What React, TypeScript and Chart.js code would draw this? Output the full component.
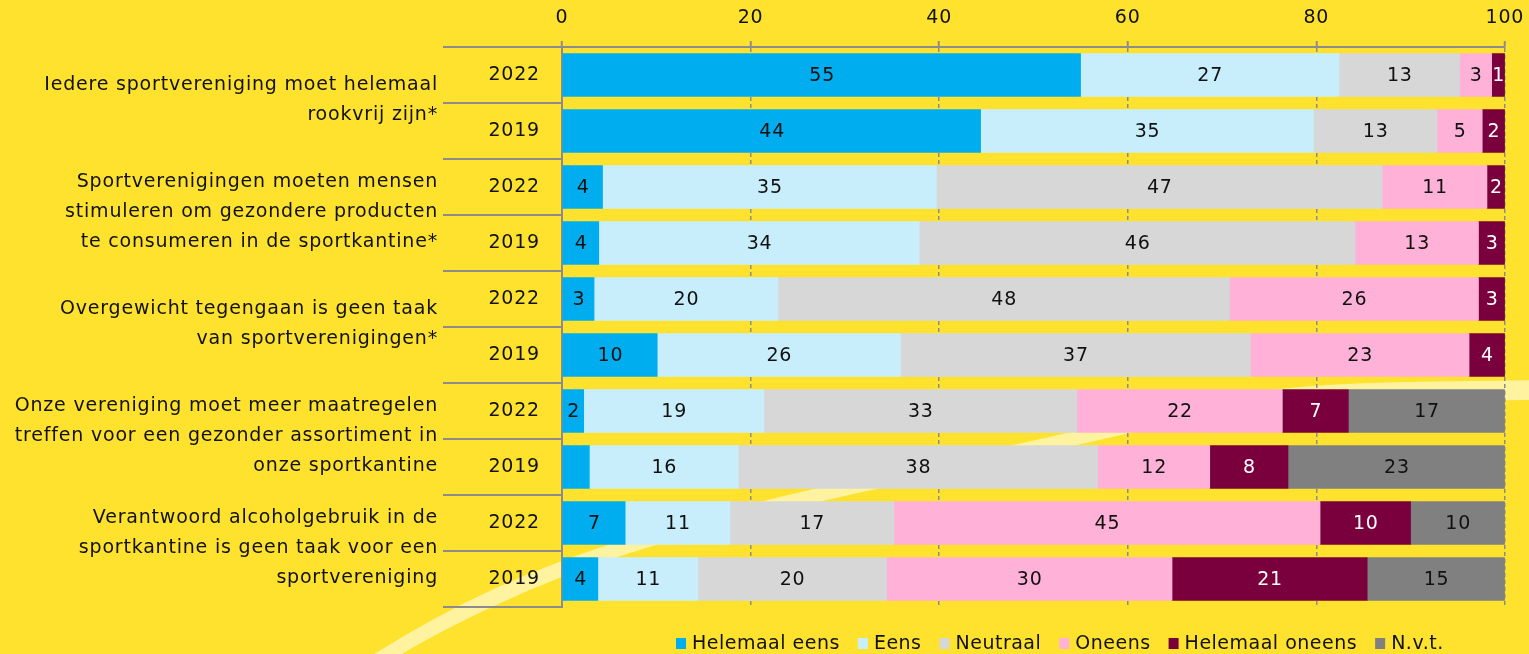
import React, { useEffect, useRef } from 'react';
import { Chart, registerables } from 'chart.js';

Chart.register(...registerables);

// ---------- data ----------
const years = ['2022', '2019', '2022', '2019', '2022', '2019', '2022', '2019', '2022', '2019'];

const questions = [
  ['Iedere sportvereniging moet helemaal', 'rookvrij zijn*'],
  ['Sportverenigingen moeten mensen', 'stimuleren om gezondere producten', 'te consumeren in de sportkantine*'],
  ['Overgewicht tegengaan is geen taak', 'van sportverenigingen*'],
  ['Onze vereniging moet meer maatregelen', 'treffen voor een gezonder assortiment in', 'onze sportkantine'],
  ['Verantwoord alcoholgebruik in de', 'sportkantine is geen taak voor een', 'sportvereniging'],
];

const seriesNames = ['Helemaal eens', 'Eens', 'Neutraal', 'Oneens', 'Helemaal oneens', 'N.v.t.'];

const helemaalEens = [55.0, 44.4, 4.3, 3.9, 3.4, 10.1, 2.3, 2.9, 6.7, 3.8];
const eens = [27.4, 35.3, 35.4, 34.0, 19.5, 25.8, 19.1, 15.8, 11.1, 10.6];
const neutraal = [12.8, 13.1, 47.3, 46.2, 47.9, 37.1, 33.2, 38.1, 17.4, 20.0];
const oneens = [3.4, 4.8, 11.1, 13.1, 26.4, 23.2, 21.8, 11.9, 45.2, 30.3];
const helemaalOneens = [1.4, 2.4, 1.9, 2.8, 2.8, 3.8, 7.0, 8.3, 9.6, 20.7];
const nvt = [0, 0, 0, 0, 0, 0, 16.6, 23.0, 10.0, 14.6];

// labels that are not printed in the reference: [seriesIndex, rowIndex]
const hiddenLabels = [[0, 7]];

const xMin = 0;
const xMax = 100;
const xStep = 20;

// ---------- styles ----------
const FONT = '"DejaVu Sans", sans-serif';
const FONT_SIZE = 19;
const TEXT = '#111111';
const BG = '#FFE22D';
const STREAK = '#FFF3A0';
const GRAY = '#8C8C8C';
const colors = ['#00AEEF', '#C8EEFB', '#D7D7D7', '#FFB1D8', '#7A003D', '#808080'];
const labelColors = [TEXT, TEXT, TEXT, TEXT, '#FFFFFF', TEXT];

// decorative swoosh: centre line and half thickness (background ornament only)
const swooshCenter = [
  [360, 672, 9], [430, 627, 9], [560, 567, 8], [700, 524, 7], [815, 495, 7],
  [1070, 440, 7], [1220, 404, 8], [1330, 392, 9], [1540, 390, 10],
];

function smoothPath(ctx: any, pts: number[][], first: boolean) {
  if (first) ctx.moveTo(pts[0][0], pts[0][1]);
  else ctx.lineTo(pts[0][0], pts[0][1]);
  for (let i = 1; i < pts.length - 1; i++) {
    const mx = (pts[i][0] + pts[i + 1][0]) / 2;
    const my = (pts[i][1] + pts[i + 1][1]) / 2;
    ctx.quadraticCurveTo(pts[i][0], pts[i][1], mx, my);
  }
  const last = pts[pts.length - 1];
  ctx.lineTo(last[0], last[1]);
}

const decorPlugin = {
  id: 'decor',
  beforeDraw(chart: any) {
    const ctx = chart.ctx;
    const W = chart.width;
    const H = chart.height;
    ctx.save();
    ctx.fillStyle = BG;
    ctx.fillRect(0, 0, W, H);
    ctx.fillStyle = STREAK;
    const top = swooshCenter.map(([x, y, h]) => [x, y - h]);
    const bottom = swooshCenter.map(([x, y, h]) => [x, y + h]).reverse();
    ctx.beginPath();
    smoothPath(ctx, top, true);
    smoothPath(ctx, bottom, false);
    ctx.closePath();
    ctx.fill();
    ctx.restore();
    try { ctx.letterSpacing = '0.8px'; } catch (e) {}
  },
  afterDatasetsDraw(chart: any) {
    const ctx = chart.ctx;
    ctx.save();
    ctx.font = `${FONT_SIZE}px ${FONT}`;
    ctx.textAlign = 'center';
    ctx.textBaseline = 'middle';
    chart.data.datasets.forEach((ds: any, di: number) => {
      const meta = chart.getDatasetMeta(di);
      meta.data.forEach((bar: any, i: number) => {
        const v = ds.data[i];
        if (!v) return;
        if (hiddenLabels.some(([s, r]) => s === di && r === i)) return;
        const p = bar.getProps(['x', 'y', 'base'], true);
        ctx.fillStyle = labelColors[di];
        ctx.fillText(String(Math.round(v)), (p.x + p.base) / 2 + 0.5, p.y + 1);
      });
    });
    ctx.restore();
  },
  afterDraw(chart: any) {
    const ctx = chart.ctx;
    const area = chart.chartArea;
    const yScale = chart.scales.y;
    const n = years.length;
    const step = yScale.getPixelForValue(1) - yScale.getPixelForValue(0);
    ctx.save();
    // row separators left of the plot
    ctx.strokeStyle = GRAY;
    ctx.lineWidth = 2;
    for (let i = 0; i <= n; i++) {
      const y = Math.round(yScale.getPixelForValue(0) - step / 2 + i * step);
      ctx.beginPath();
      ctx.moveTo(443, y);
      ctx.lineTo(area.left, y);
      ctx.stroke();
    }
    // question labels
    ctx.font = `${FONT_SIZE}px ${FONT}`;
    ctx.fillStyle = TEXT;
    ctx.textAlign = 'right';
    ctx.textBaseline = 'middle';
    const pitch = 30;
    questions.forEach((lines, g) => {
      const cy = (yScale.getPixelForValue(2 * g) + yScale.getPixelForValue(2 * g + 1)) / 2 - 3;
      lines.forEach((line, k) => {
        ctx.fillText(line, 438, cy + (k - (lines.length - 1) / 2) * pitch);
      });
    });
    // legend
    try { ctx.letterSpacing = '0.5px'; } catch (e) {}
    ctx.textAlign = 'left';
    const widths = seriesNames.map((s) => ctx.measureText(s).width);
    const box = 10;
    const gapIn = 6;
    const gapOut = 18;
    let x = 676;
    const ly = 643;
    seriesNames.forEach((s, i) => {
      ctx.fillStyle = colors[i];
      ctx.fillRect(x, ly - 5, box, 11);
      ctx.fillStyle = TEXT;
      ctx.fillText(s, x + box + gapIn, ly + 1);
      x += box + gapIn + widths[i] + gapOut;
    });
    ctx.restore();
  },
};

export default function App() {
  const ref = useRef<HTMLCanvasElement | null>(null);

  useEffect(() => {
    document.body.style.margin = '0';
    document.body.style.background = BG;
    Chart.defaults.font.family = FONT;
    Chart.defaults.font.size = FONT_SIZE;
    Chart.defaults.color = TEXT;

    const seriesData = [helemaalEens, eens, neutraal, oneens, helemaalOneens, nvt];
    const chart = new Chart(ref.current as HTMLCanvasElement, {
      type: 'bar',
      data: {
        labels: years,
        datasets: seriesNames.map((name, i) => ({
          label: name,
          data: seriesData[i],
          backgroundColor: colors[i],
          borderWidth: 0,
          barThickness: 43,
        })),
      },
      options: {
        indexAxis: 'y',
        animation: false,
        responsive: false,
        maintainAspectRatio: false,
        layout: { padding: { left: 0, right: 24, top: 0, bottom: 47 } },
        plugins: {
          legend: { display: false },
          tooltip: { enabled: false },
        },
        scales: {
          x: {
            position: 'top',
            stacked: true,
            min: xMin,
            max: xMax,
            ticks: { stepSize: xStep, color: TEXT, font: { family: FONT, size: FONT_SIZE, lineHeight: 1.8 }, padding: 6 },
            grid: { color: GRAY, lineWidth: 1.5, tickLength: 6, tickColor: GRAY, tickWidth: 2 },
            border: { display: true, color: GRAY, width: 2, dash: [4, 3] },
            afterFit: (s: any) => { s.height = 47; },
          },
          y: {
            stacked: true,
            ticks: { color: TEXT, font: { family: FONT, size: FONT_SIZE }, padding: 22 },
            grid: { display: false, drawTicks: false },
            border: { display: true, color: GRAY, width: 2 },
            afterFit: (s: any) => { s.width = 562; },
          },
        },
      } as any,
      plugins: [decorPlugin],
    });
    return () => chart.destroy();
  }, []);

  return (
    <canvas ref={ref} width={1529} height={654} style={{ display: 'block', width: 1529, height: 654 }} />
  );
}
